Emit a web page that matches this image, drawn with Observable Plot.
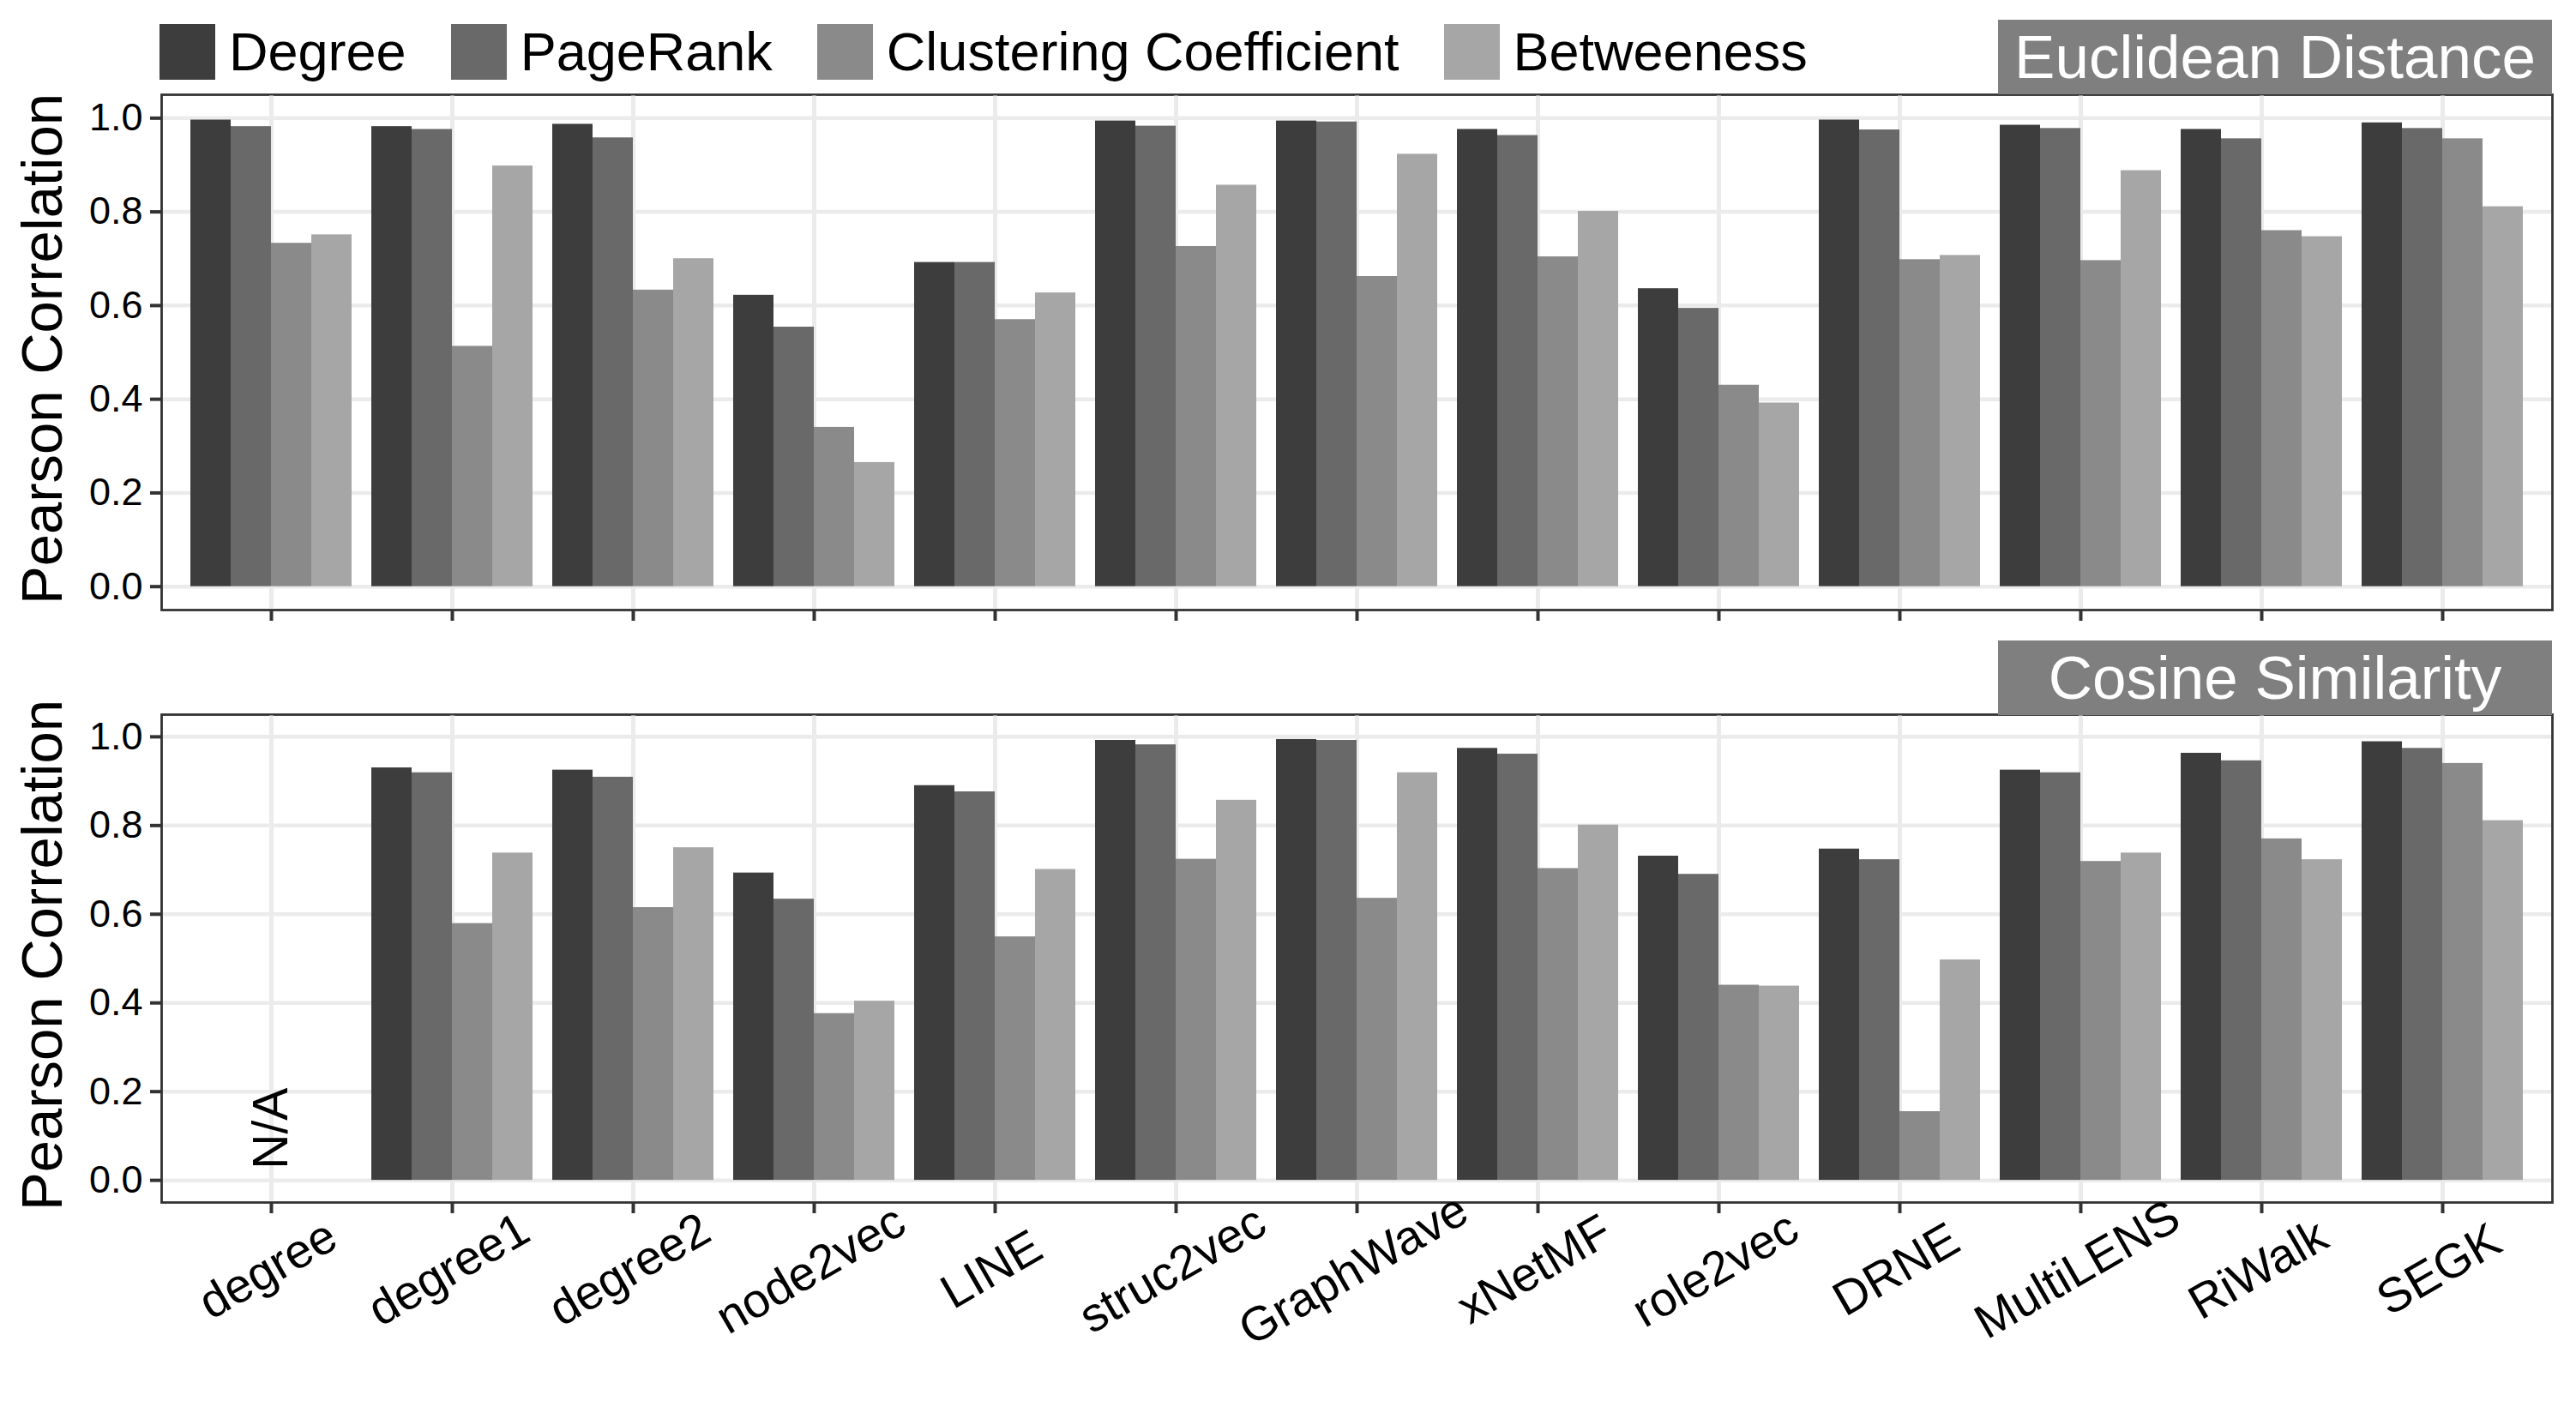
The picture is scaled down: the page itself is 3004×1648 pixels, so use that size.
<!DOCTYPE html>
<html>
<head>
<meta charset="utf-8">
<script src="https://cdn.jsdelivr.net/npm/d3@7"></script>
<script src="https://cdn.jsdelivr.net/npm/@observablehq/plot@0.6"></script>
<style>
html, body { margin: 0; padding: 0; background: #fff; }
#root { position: relative; width: 3004px; height: 1648px; overflow: hidden;
  font-family: "Liberation Sans", Arial, Helvetica, sans-serif; }
.legend { position: absolute; left: 186px; top: 28px; height: 65px; display: flex; align-items: center; }
.item { display: flex; align-items: center; margin-right: 52px; }
.swatch { width: 65px; height: 65px; margin-right: 16px; }
.item span { font-size: 63px; line-height: 65px; color: #000; white-space: nowrap; }
.strip { position: absolute; left: 2330px; width: 646px; height: 87px; background: #7f7f7f; color: #fff;
  font-size: 71px; display: flex; align-items: center; justify-content: center; white-space: nowrap; }
.ytitle { position: absolute; left: 48px; font-size: 67px; color: #000; white-space: nowrap;
  transform: translate(-50%, -50%) rotate(-90deg); line-height: 1; }
.panel { position: absolute; left: 0; }
</style>
</head>
<body>
<div id="root"></div>
<script>
// ---- data ----
const methods = ["degree", "degree1", "degree2", "node2vec", "LINE", "struc2vec", "GraphWave",
  "xNetMF", "role2vec", "DRNE", "MultiLENS", "RiWalk", "SEGK"];
const metrics = ["Degree", "PageRank", "Clustering Coefficient", "Betweeness"];
const metricColors = ["#3d3d3d", "#696969", "#8a8a8a", "#a6a6a6"];
const yTicks = [0, 0.2, 0.4, 0.6, 0.8, 1.0];
const yTitle = "Pearson Correlation";
const panelTitles = ["Euclidean Distance", "Cosine Similarity"];

// Euclidean Distance panel
const euclidDegree   = [0.996, 0.982, 0.987, 0.622, 0.692, 0.994, 0.994, 0.976, 0.636, 0.996, 0.985, 0.976, 0.990];
const euclidPageRank = [0.982, 0.976, 0.958, 0.554, 0.692, 0.983, 0.992, 0.963, 0.594, 0.975, 0.978, 0.956, 0.978];
const euclidCluster  = [0.733, 0.513, 0.633, 0.340, 0.570, 0.726, 0.662, 0.704, 0.430, 0.698, 0.696, 0.760, 0.956];
const euclidBetween  = [0.751, 0.898, 0.700, 0.265, 0.627, 0.857, 0.923, 0.801, 0.392, 0.707, 0.888, 0.747, 0.811];

// Cosine Similarity panel (degree: not applicable)
const cosineDegree   = [null, 0.930, 0.925, 0.693, 0.890, 0.992, 0.994, 0.974, 0.731, 0.747, 0.925, 0.963, 0.989];
const cosinePageRank = [null, 0.919, 0.909, 0.634, 0.876, 0.982, 0.992, 0.961, 0.690, 0.723, 0.919, 0.946, 0.974];
const cosineCluster  = [null, 0.579, 0.615, 0.376, 0.549, 0.724, 0.636, 0.703, 0.440, 0.155, 0.719, 0.770, 0.940];
const cosineBetween  = [null, 0.738, 0.750, 0.404, 0.701, 0.857, 0.919, 0.801, 0.438, 0.497, 0.738, 0.723, 0.811];

const naNotes = [{method: "degree", note: "N/A"}];

// ---- build tables ----
function toTable(series) {
  return methods.flatMap((m, i) => metrics.map((k, j) => ({method: m, metric: k, value: series[j][i]})))
    .filter(d => d.value != null);
}
const euclidData = toTable([euclidDegree, euclidPageRank, euclidCluster, euclidBetween]);
const cosineData = toTable([cosineDegree, cosinePageRank, cosineCluster, cosineBetween]);

const FONT = '"Liberation Sans", Arial, Helvetica, sans-serif';

function makePanel({data, frameHeight, marginBottom, showLabels, notes}) {
  const common = {
    width: 3004,
    height: 5 + frameHeight + marginBottom,
    marginTop: 5, marginBottom, marginLeft: 188, marginRight: 28,
    style: {fontFamily: FONT, background: "transparent", overflow: "visible"},
    y: {domain: [-0.05, 1.05], axis: null}
  };
  // background layer: horizontal grid, y axis, panel border
  const bg = Plot.plot({
    ...common,
    marks: [
      Plot.gridY(yTicks, {stroke: "#ebebeb", strokeOpacity: 1, strokeWidth: 4.5}),
      Plot.axisY(yTicks, {anchor: "left", tickSize: 13, tickPadding: 9,
        tickFormat: d3.format(".1f"), fontSize: 45, color: "#000", stroke: "#333", strokeWidth: 4, label: null}),
      Plot.frame({stroke: "#333", strokeWidth: 2.8})
    ]
  });
  // foreground layer: per-method groups of bars
  const fgMarks = [
    Plot.gridFx({stroke: "#ebebeb", strokeOpacity: 1, strokeWidth: 5, insetTop: 1.5, insetBottom: 1.5}),
    Plot.barY(data, {fx: "method", x: "metric", y: "value", fill: "metric"}),
    Plot.axisFx({anchor: "bottom", tickSize: 13, tickFormat: () => "", label: null, stroke: "#333", strokeWidth: 4})
  ];
  if (showLabels) {
    fgMarks.push(Plot.text(methods, {fx: d => d, text: d => d, frameAnchor: "bottom", dx: 5, dy: 94,
      rotate: -30, fontSize: 56, fill: "#000"}));
  }
  if (notes) {
    fgMarks.push(Plot.text(notes, {fx: "method", text: "note", y: 0, dy: -13, rotate: -90,
      textAnchor: "start", fontSize: 57, fill: "#000"}));
  }
  const fg = Plot.plot({
    ...common,
    fx: {domain: methods, paddingInner: 0.1, paddingOuter: 0.15, axis: null, label: null},
    x: {domain: metrics, axis: null, padding: 0},
    color: {domain: metrics, range: metricColors},
    marks: fgMarks
  });
  return [bg, fg];
}

const root = document.getElementById("root");

// legend
const legend = document.createElement("div");
legend.className = "legend";
metrics.forEach((m, i) => {
  const it = document.createElement("div");
  it.className = "item";
  const sw = document.createElement("div");
  sw.className = "swatch";
  sw.style.background = metricColors[i];
  const tx = document.createElement("span");
  tx.textContent = m;
  it.append(sw, tx);
  legend.append(it);
});
root.append(legend);

function place(svgs, top, frameHeight) {
  svgs.forEach(s => {
    s.classList.add("panel");
    s.style.top = top + "px";
    root.append(s);
  });
  const t = document.createElement("div");
  t.className = "ytitle";
  t.textContent = yTitle;
  t.style.top = (top + 5 + frameHeight / 2 - 4) + "px";
  root.append(t);
}

place(makePanel({data: euclidData, frameHeight: 601, marginBottom: 30, showLabels: false}), 105, 601);
place(makePanel({data: cosineData, frameHeight: 569, marginBottom: 246, showLabels: true, notes: naNotes}), 828, 569);

// strips
[[panelTitles[0], 23], [panelTitles[1], 747]].forEach(([t, top]) => {
  const s = document.createElement("div");
  s.className = "strip";
  s.style.top = top + "px";
  s.textContent = t;
  root.append(s);
});
</script>
</body>
</html>
